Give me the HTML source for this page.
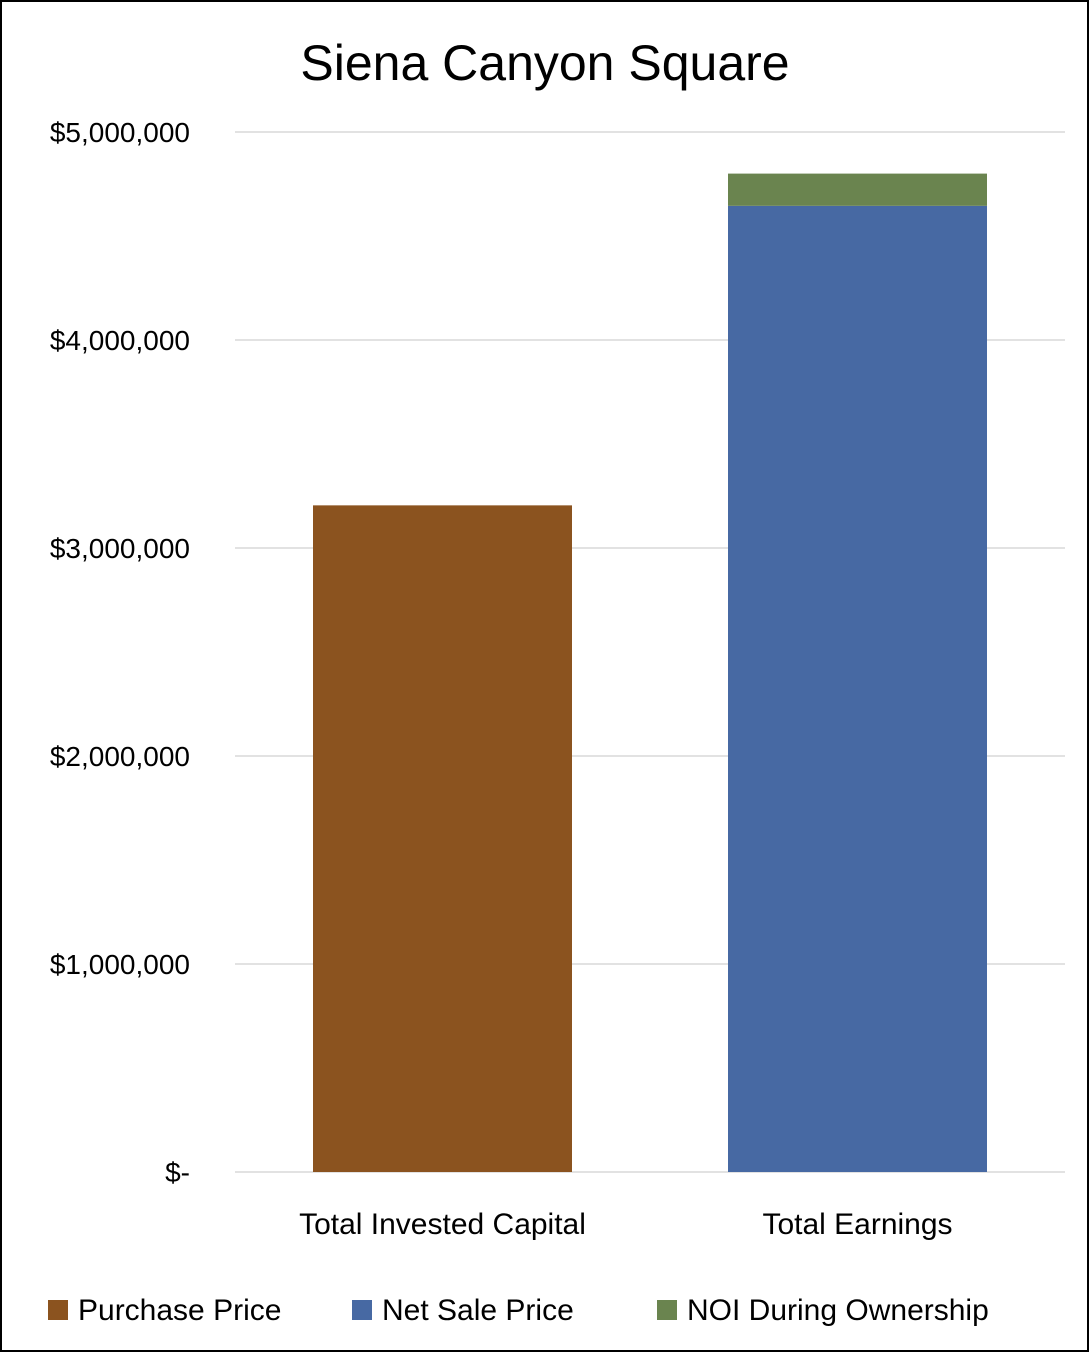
<!DOCTYPE html>
<html><head><meta charset="utf-8"><style>
html,body{margin:0;padding:0;background:#fff;}
svg{display:block;font-family:"Liberation Sans",sans-serif;}
</style></head><body>
<svg id="chart" width="1089" height="1352" viewBox="0 0 1089 1352">
<rect x="1" y="1" width="1087" height="1350" fill="#fff" stroke="#000" stroke-width="2"/>
<text x="545" y="80" text-anchor="middle" font-size="50" fill="#000">Siena Canyon Square</text>
<g id="grid"></g><g id="bars"></g><g id="labels"></g><g id="legend"></g>
</svg>
<script>
const categories = ["Total Invested Capital", "Total Earnings"];
const seriesNames = ["Purchase Price", "Net Sale Price", "NOI During Ownership"];
const purchasePrice = [3205000, 0];
const netSalePrice = [0, 4645000];
const noiDuringOwnership = [0, 155000];
const tickValues = [0, 1000000, 2000000, 3000000, 4000000, 5000000];
const tickLabels = ["$-", "$1,000,000", "$2,000,000", "$3,000,000", "$4,000,000", "$5,000,000"];

const colors = ["#8B531F", "#4769A3", "#6A844F"];
const NS = "http://www.w3.org/2000/svg";
const x0 = 235, x1 = 1065, yBase = 1172, yTop = 132, yMax = 5000000;
const y = v => yBase - (v / yMax) * (yBase - yTop);
const band = (x1 - x0) / categories.length;
const barW = 259;
const bx = i => x0 + band * i + (band - barW) / 2;
function mk(tag, attrs, parent, text) {
  const e = document.createElementNS(NS, tag);
  for (const k in attrs) e.setAttribute(k, attrs[k]);
  if (text !== undefined) e.textContent = text;
  document.getElementById(parent).appendChild(e);
  return e;
}
tickValues.forEach((v, i) => {
  const l = mk("line", {x1: x0, x2: x1, y1: y(v), y2: y(v), stroke: "#d9d9d9", "stroke-width": 1.5}, "grid");
  
  
  const t = mk("text", {x: 190, y: y(v) + 10, "text-anchor": "end", "font-size": 28, fill: "#000"}, "labels", tickLabels[i]);
  
  
});
const series = [purchasePrice, netSalePrice, noiDuringOwnership];
categories.forEach((c, i) => {
  let acc = 0;
  series.forEach((s, k) => {
    const v = s[i];
    if (v > 0) {
      const r = mk("rect", {x: bx(i), y: y(acc + v), width: barW, height: y(acc) - y(acc + v), fill: colors[k]}, "bars");
      
      
    }
    acc += v;
  });
  const t = mk("text", {x: bx(i) + barW / 2, y: 1234, "text-anchor": "middle", "font-size": 30, fill: "#000"}, "labels", c);
  
  
});
const legendX = [48, 352, 657];
seriesNames.forEach((n, k) => {
  const r = mk("rect", {x: legendX[k], y: 1300, width: 20, height: 20, fill: colors[k]}, "legend");
  
  
  const t = mk("text", {x: legendX[k] + 30, y: 1320, "font-size": 30, fill: "#000"}, "legend", n);
  
  
});
</script>
</body></html>
